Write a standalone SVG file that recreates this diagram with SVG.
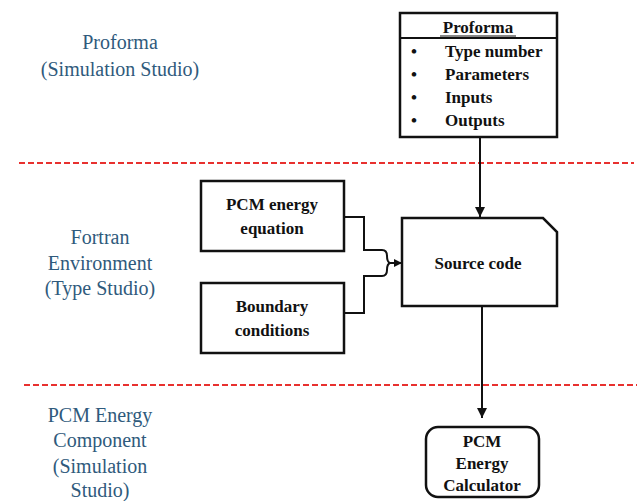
<svg xmlns="http://www.w3.org/2000/svg" width="643" height="501" viewBox="0 0 643 501">
<style>
.lbl{font-family:"Liberation Serif","Times New Roman","DejaVu Serif",serif;font-size:20px;fill:#2f5a7c;text-anchor:middle}
.bt{font-family:"Liberation Serif","Times New Roman","DejaVu Serif",serif;font-size:17px;font-weight:bold;fill:#111}
.c{text-anchor:middle}
.box{fill:#fff;stroke:#111;stroke-width:2.5}
.ln{fill:none;stroke:#111;stroke-width:2}
.dash{stroke:#e8312f;stroke-width:2;stroke-dasharray:6,3}
</style>
<defs>
<marker id="ah" viewBox="0 0 10 10" refX="10" refY="5" markerWidth="5" markerHeight="5" orient="auto" markerUnits="strokeWidth">
<path d="M0,0 L10,5 L0,10 z" fill="#111"/>
</marker>
<marker id="ahs" viewBox="0 0 10 10" refX="10" refY="5" markerWidth="4" markerHeight="4" orient="auto" markerUnits="strokeWidth">
<path d="M0,0 L10,5 L0,10 z" fill="#111"/>
</marker>
</defs>
<rect width="643" height="501" fill="#fff"/>
<g id="separators">
<line class="dash" x1="19" y1="163" x2="634" y2="163"/>
<line class="dash" x1="24" y1="385" x2="637" y2="385"/>
</g>
<g id="labels">
<text class="lbl" x="120" y="49">Proforma</text>
<text class="lbl" x="120" y="76">(Simulation Studio)</text>
<text class="lbl" x="100" y="244">Fortran</text>
<text class="lbl" x="100" y="270">Environment</text>
<text class="lbl" x="100" y="295">(Type Studio)</text>
<text class="lbl" x="100" y="422">PCM Energy</text>
<text class="lbl" x="100" y="447">Component</text>
<text class="lbl" x="100" y="473">(Simulation</text>
<text class="lbl" x="100" y="497">Studio)</text>
</g>
<g id="connectors">
<line class="ln" x1="480" y1="137" x2="480" y2="217" marker-end="url(#ah)"/>
<line class="ln" x1="482" y1="306" x2="482" y2="418" marker-end="url(#ah)"/>
<path class="ln" d="M344,217 H364 V250 H382 Q387,250 387,256 Q387,262 390,263"/>
<path class="ln" d="M344,313 H364 V276 H382 Q387,276 387,270 Q387,264 390,263"/>
<line class="ln" x1="389" y1="263" x2="402" y2="263" marker-end="url(#ahs)"/>
</g>
<g id="proforma">
<rect class="box" x="400" y="13" width="157" height="124"/>
<line class="ln" x1="400" y1="38" x2="557" y2="38" stroke-width="2.5"/>
<text class="bt c" x="478" y="33">Proforma</text>
<line x1="440" y1="36" x2="516" y2="36" stroke="#111" stroke-width="1"/>
<g class="bt">
<text x="411" y="57">•</text><text x="445" y="57">Type number</text>
<text x="411" y="80">•</text><text x="445" y="80">Parameters</text>
<text x="411" y="103">•</text><text x="445" y="103">Inputs</text>
<text x="411" y="126">•</text><text x="445" y="126">Outputs</text>
</g>
</g>
<g id="pcm-equation">
<rect class="box" x="201" y="181" width="143" height="70"/>
<text class="bt c" x="272" y="210">PCM energy</text>
<text class="bt c" x="272" y="234">equation</text>
</g>
<g id="boundary">
<rect class="box" x="201" y="283" width="143" height="70"/>
<text class="bt c" x="272" y="312">Boundary</text>
<text class="bt c" x="272" y="336">conditions</text>
</g>
<g id="source-code">
<path class="box" d="M402,218 H543 L557,232 V306 H402 Z"/>
<text class="bt c" x="478" y="269">Source code</text>
</g>
<g id="calculator">
<rect class="box" x="426" y="427" width="113" height="70" rx="12"/>
<text class="bt c" x="482" y="447">PCM</text>
<text class="bt c" x="482" y="469">Energy</text>
<text class="bt c" x="482" y="491">Calculator</text>
</g>
</svg>
